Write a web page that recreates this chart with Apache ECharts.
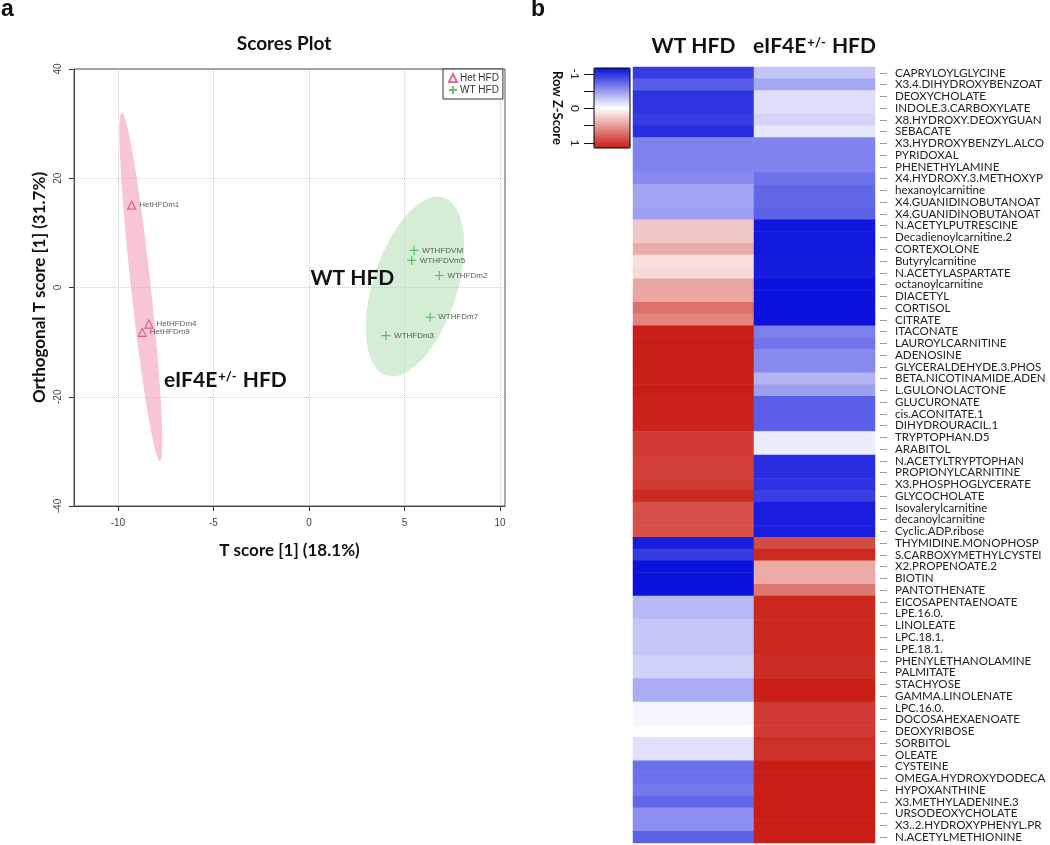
<!DOCTYPE html>
<html>
<head>
<meta charset="utf-8">
<script src="https://cdn.jsdelivr.net/npm/echarts@6/dist/echarts.min.js"></script>
<style>
html,body{margin:0;padding:0;background:#fff;}
#chart{width:1050px;height:845px;}
</style>
</head>
<body>
<div id="chart"></div>
<script>
// ---------- Panel a: OPLS-DA scores ----------
const hetNames = ['HetHFDm1', 'HetHFDm4', 'HetHFDm9'];
const hetT = [-9.28, -8.38, -8.73];
const hetOrthoT = [15.07, -6.7, -8.2];
const wtNames = ['WTHFDVM', 'WTHFDVm5', 'WTHFDm2', 'WTHFDm7', 'WTHFDm3'];
const wtT = [5.5, 5.38, 6.82, 6.34, 4.03];
const wtOrthoT = [6.8, 4.96, 2.2, -5.45, -8.8];
// confidence ellipses: [centerX, centerY, axis1X, axis1Y, axis2X, axis2Y] in data units
const ellipseHet = [-8.8, 0.1, -0.995, 31.9, 0.52, 0];
const ellipseWT = [5.55, 0.18, 1.50, 16.25, 2.09, -2.39];
const xTicks = [-10, -5, 0, 5, 10];
const yTicks = [-40, -20, 0, 20, 40];

// ---------- Panel b: heatmap ----------
const groups = ['WT HFD', 'eIF4E+/- HFD'];
const metabolites = [
  'CAPRYLOYLGLYCINE', 'X3.4.DIHYDROXYBENZOATE', 'DEOXYCHOLATE', 'INDOLE.3.CARBOXYLATE',
  'X8.HYDROXY.DEOXYGUANOSINE', 'SEBACATE', 'X3.HYDROXYBENZYL.ALCOHOL', 'PYRIDOXAL',
  'PHENETHYLAMINE', 'X4.HYDROXY.3.METHOXYPHENYLGLYCOL', 'hexanoylcarnitine', 'X4.GUANIDINOBUTANOATE',
  'X4.GUANIDINOBUTANOATE.1', 'N.ACETYLPUTRESCINE', 'Decadienoylcarnitine.2', 'CORTEXOLONE',
  'Butyrylcarnitine', 'N.ACETYLASPARTATE', 'octanoylcarnitine', 'DIACETYL',
  'CORTISOL', 'CITRATE', 'ITACONATE', 'LAUROYLCARNITINE',
  'ADENOSINE', 'GLYCERALDEHYDE.3.PHOSPHATE', 'BETA.NICOTINAMIDE.ADENINE.DINUCLEOTIDE', 'L.GULONOLACTONE',
  'GLUCURONATE', 'cis.ACONITATE.1', 'DIHYDROURACIL.1', 'TRYPTOPHAN.D5',
  'ARABITOL', 'N.ACETYLTRYPTOPHAN', 'PROPIONYLCARNITINE', 'X3.PHOSPHOGLYCERATE',
  'GLYCOCHOLATE', 'Isovalerylcarnitine', 'decanoylcarnitine', 'Cyclic.ADP.ribose',
  'THYMIDINE.MONOPHOSPHATE', 'S.CARBOXYMETHYLCYSTEINE', 'X2.PROPENOATE.2', 'BIOTIN',
  'PANTOTHENATE', 'EICOSAPENTAENOATE', 'LPE.16.0.', 'LINOLEATE',
  'LPC.18.1.', 'LPE.18.1.', 'PHENYLETHANOLAMINE', 'PALMITATE',
  'STACHYOSE', 'GAMMA.LINOLENATE', 'LPC.16.0.', 'DOCOSAHEXAENOATE',
  'DEOXYRIBOSE', 'SORBITOL', 'OLEATE', 'CYSTEINE',
  'OMEGA.HYDROXYDODECANOATE', 'HYPOXANTHINE', 'X3.METHYLADENINE.3', 'URSODEOXYCHOLATE',
  'X3..2.HYDROXYPHENYL.PROPANOATE', 'N.ACETYLMETHIONINE'
];
const wtZ = [
  -0.82, -0.68, -0.85, -0.85, -0.82, -0.88, -0.52, -0.52,
  -0.52, -0.48, -0.38, -0.38, -0.40, 0.25, 0.25, 0.37,
  0.14, 0.16, 0.40, 0.40, 0.63, 0.55, 1.0, 1.0,
  1.0, 1.0, 1.0, 1.0, 0.98, 0.98, 0.98, 0.87,
  0.87, 0.85, 0.85, 0.88, 0.95, 0.78, 0.78, 0.78,
  -0.94, -0.82, -0.99, -0.99, -0.99, -0.29, -0.29, -0.24,
  -0.24, -0.24, -0.19, -0.19, -0.35, -0.35, -0.04, -0.04,
  -0.01, -0.13, -0.13, -0.60, -0.60, -0.56, -0.64, -0.47,
  -0.47, -0.66
];
const hetZ = [
  -0.24, -0.37, -0.14, -0.14, -0.18, -0.10, -0.52, -0.52,
  -0.52, -0.60, -0.64, -0.64, -0.66, -0.97, -0.97, -0.97,
  -0.95, -0.95, -0.99, -0.99, -0.99, -0.99, -0.53, -0.58,
  -0.49, -0.49, -0.31, -0.40, -0.67, -0.67, -0.67, -0.08,
  -0.08, -0.88, -0.88, -0.86, -0.80, -0.94, -0.94, -0.94,
  0.80, 0.95, 0.38, 0.37, 0.60, 0.96, 0.96, 0.96,
  0.96, 0.96, 0.94, 0.94, 1.0, 1.0, 0.87, 0.87,
  0.88, 0.92, 0.92, 1.0, 1.0, 1.0, 1.0, 1.0,
  1.0, 1.0
];
const zTickValues = [-1, -0.5, 0, 0.5, 1];
const zLabelValues = [-1, 0, 1];

// ---------- build ----------
const heatData = [];
metabolites.forEach(function (m, i) {
  heatData.push([0, i, wtZ[i]]);
  heatData.push([1, i, hetZ[i]]);
});
const hetPoints = hetNames.map(function (n, i) { return { name: n, value: [hetT[i], hetOrthoT[i]] }; });
const wtPoints = wtNames.map(function (n, i) { return { name: n, value: [wtT[i], wtOrthoT[i]] }; });

function ellipseRenderer(fill) {
  return function (params, api) {
    const cx = api.value(0), cy = api.value(1), ax = api.value(2), ay = api.value(3), bx = api.value(4), by = api.value(5);
    const pts = [];
    const N = 120;
    for (let k = 0; k < N; k++) {
      const t = k / N * Math.PI * 2;
      pts.push(api.coord([cx + ax * Math.cos(t) + bx * Math.sin(t), cy + ay * Math.cos(t) + by * Math.sin(t)]));
    }
    return { type: 'polygon', shape: { points: pts }, style: { fill: fill } };
  };
}

const richGroup = {
  n: { fontFamily: 'Lato', fontWeight: 'bold', fontSize: 21, color: '#111' },
  s: { fontFamily: 'Lato', fontWeight: 'bold', fontSize: 13, color: '#111', verticalAlign: 'top', padding: [0, 1, 0, 1] }
};
function groupFormatter(v) {
  if (v.indexOf('+/-') >= 0) {
    const parts = v.split('+/-');
    return '{n|' + parts[0] + '}{s|+/-}{n|' + parts[1] + '}';
  }
  return '{n|' + v + '}';
}

const chart = echarts.init(document.getElementById('chart'), null, { renderer: 'canvas' });
const option = {
  backgroundColor: '#fff',
  animation: false,
  textStyle: { fontFamily: 'Liberation Sans' },
  title: [
    { text: 'a', left: 1, top: -2, padding: 0, textStyle: { fontFamily: 'Liberation Sans', fontWeight: 'bold', fontSize: 23, color: '#111' } },
    { text: 'b', left: 531, top: -2, padding: 0, textStyle: { fontFamily: 'Liberation Sans', fontWeight: 'bold', fontSize: 23, color: '#111' } },
    { text: 'Scores Plot', left: 284, top: 34, textAlign: 'center', padding: 0, textStyle: { fontFamily: 'Lato', fontWeight: 'bold', fontSize: 19, color: '#111' } }
  ],
  legend: {
    data: ['Het HFD', 'WT HFD'],
    orient: 'vertical',
    left: 443, top: 69,
    padding: [4, 4, 4, 5],
    itemGap: 2,
    itemWidth: 8, itemHeight: 8,
    borderColor: '#333', borderWidth: 1,
    backgroundColor: '#fff',
    textStyle: { fontFamily: 'Liberation Sans', fontSize: 10, color: '#333', padding: [0, 0, 0, -2] },
    z: 20
  },
  grid: [
    { left: 74, top: 69, width: 431, height: 437, show: true, borderColor: '#555', borderWidth: 1, backgroundColor: 'transparent', z: 5 },
    { left: 633, top: 67, width: 245, height: 776 },
    { left: 594, top: 68, width: 36, height: 80, show: true, borderColor: '#000', borderWidth: 1, backgroundColor: 'transparent', z: 10 }
  ],
  xAxis: [
    {
      gridIndex: 0, type: 'value', min: -12.3, max: 10.26,
      axisLine: { show: true, onZero: false, lineStyle: { color: '#333', width: 1 } },
      axisTick: { show: true, customValues: xTicks, length: 5, lineStyle: { color: '#333' } },
      axisLabel: { customValues: xTicks, margin: 12, fontSize: 10, color: '#444', fontFamily: 'Liberation Sans' },
      splitLine: { show: true, lineStyle: { type: 'dotted', color: '#cfcfcf', width: 1 } },
      name: 'T score [1] (18.1%)', nameLocation: 'middle', nameGap: 36,
      nameTextStyle: { fontFamily: 'Lato', fontWeight: 'bold', fontSize: 17, color: '#111' }
    },
    {
      gridIndex: 1, type: 'category', data: groups, position: 'top',
      axisLine: { show: false }, axisTick: { show: false },
      axisLabel: { interval: 0, margin: 10, formatter: groupFormatter, rich: richGroup }
    },
    { gridIndex: 2, type: 'value', min: 0, max: 1, show: false }
  ],
  yAxis: [
    {
      gridIndex: 0, type: 'value', min: -40, max: 40, interval: 20,
      axisLine: { show: true, onZero: false, lineStyle: { color: '#333', width: 1 } },
      axisTick: { show: true, length: 5, lineStyle: { color: '#333' } },
      axisLabel: { rotate: 90, margin: 11, fontSize: 10, color: '#444', fontFamily: 'Liberation Sans' },
      splitLine: { show: true, lineStyle: { type: 'dotted', color: '#cfcfcf', width: 1 } },
      name: 'Orthogonal T score [1] (31.7%)', nameLocation: 'middle', nameGap: 26, nameRotate: 90,
      nameTextStyle: { fontFamily: 'Lato', fontWeight: 'bold', fontSize: 17, color: '#111' }
    },
    {
      gridIndex: 1, type: 'category', data: metabolites, inverse: true, position: 'right', offset: 5,
      axisLine: { show: false },
      axisTick: { show: true, length: 7, alignWithLabel: true, lineStyle: { color: '#999' } },
      axisLabel: {
        interval: 0, margin: 15, fontSize: 11.6, lineHeight: 12, fontFamily: 'Lato', color: '#222',
        width: 152, overflow: 'truncate', ellipsis: ''
      }
    },
    {
      gridIndex: 2, type: 'value', min: -1.174, max: 1.145, inverse: true, position: 'left',
      axisLine: { show: false },
      axisTick: { show: true, customValues: zTickValues, length: 10, lineStyle: { color: '#111' } },
      axisLabel: { customValues: zLabelValues, rotate: -90, margin: 13, fontSize: 12, color: '#222', fontFamily: 'Lato' },
      splitLine: { show: false },
      name: 'Row Z-Score', nameLocation: 'middle', nameRotate: -90, nameGap: 30,
      nameTextStyle: { fontFamily: 'Lato', fontWeight: 'bold', fontSize: 13, color: '#111' }
    }
  ],
  visualMap: {
    type: 'continuous', min: -1, max: 1, inverse: true,
    seriesIndex: 5,
    left: 594, top: 68, itemWidth: 36, itemHeight: 80,
    padding: 0, calculable: false, hoverLink: false,
    inRange: { color: ['#0a10dc', '#ffffff', '#c81e16'] },
    z: 4
  },
  series: [
    {
      name: 'Het ellipse', type: 'custom', xAxisIndex: 0, yAxisIndex: 0, silent: true, z: 1,
      renderItem: ellipseRenderer('rgba(240,150,175,0.55)'),
      data: [ellipseHet], encode: { x: 0, y: 1 }
    },
    {
      name: 'WT ellipse', type: 'custom', xAxisIndex: 0, yAxisIndex: 0, silent: true, z: 1,
      renderItem: ellipseRenderer('rgba(160,215,160,0.45)'),
      data: [ellipseWT], encode: { x: 0, y: 1 }
    },
    {
      name: 'Het HFD', type: 'scatter', xAxisIndex: 0, yAxisIndex: 0, z: 3,
      symbol: 'triangle', symbolSize: 8,
      itemStyle: { color: 'rgba(0,0,0,0)', borderColor: '#e0457c', borderWidth: 1.2 },
      label: { show: true, position: 'right', distance: 3, formatter: '{b}', fontSize: 8, color: '#333', fontFamily: 'Liberation Sans' },
      data: hetPoints
    },
    {
      name: 'WT HFD', type: 'scatter', xAxisIndex: 0, yAxisIndex: 0, z: 3,
      symbol: 'path://M5,0L5,10M0,5L10,5', symbolSize: 9,
      itemStyle: { color: 'rgba(0,0,0,0)', borderColor: '#3daf48', borderWidth: 1.2 },
      label: { show: true, position: 'right', distance: 3, formatter: '{b}', fontSize: 8, color: '#333', fontFamily: 'Liberation Sans' },
      data: wtPoints
    },
    {
      name: 'group annotations', type: 'scatter', xAxisIndex: 0, yAxisIndex: 0, z: 4, silent: true,
      symbolSize: 1, itemStyle: { color: '#fff', opacity: 1 },
      label: {
        show: true, position: [0, 0], align: 'center', verticalAlign: 'middle', color: '#111', opacity: 1,
        formatter: function (p) { return groupFormatter(p.name); },
        rich: richGroup
      },
      data: [
        { name: 'WT HFD', value: [2.3, 1.6] },
        { name: 'eIF4E+/- HFD', value: [-4.35, -17.1] }
      ]
    },
    {
      name: 'Row Z-Score', type: 'heatmap', xAxisIndex: 1, yAxisIndex: 1,
      itemStyle: { borderWidth: 0 },
      emphasis: { disabled: true },
      data: heatData
    }
  ]
};
chart.setOption(option);
</script>
</body>
</html>
